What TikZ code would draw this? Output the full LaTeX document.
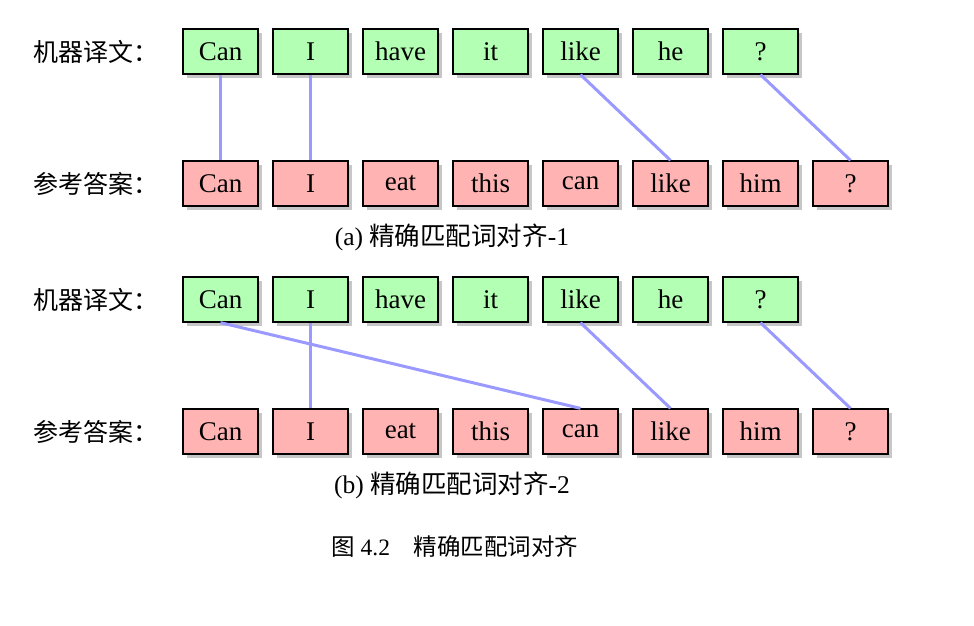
\documentclass[tikz,border=0pt]{standalone}
\usepackage{fontspec}
\setmainfont{Liberation Serif}
\newfontfamily\cjk{Noto Sans CJK SC}
\usetikzlibrary{positioning,shadows}
\definecolor{mtgreen}{RGB}{179,255,179}
\definecolor{refred}{RGB}{255,179,179}
\definecolor{linkblue}{RGB}{153,153,255}

\begin{document}
\begin{tikzpicture}[
    x=1pt, y=-1pt,
    word/.style={rectangle, draw, line width=1.3pt, minimum width=75pt, minimum height=45pt,
        inner sep=0pt, font=\fontsize{27}{32}\selectfont,
        drop shadow={shadow xshift=4pt, shadow yshift=-4pt, fill=black!22, opacity=1}},
    mtword/.style={word, fill=mtgreen},
    refword/.style={word, fill=refred},
    link/.style={draw=linkblue, line width=3pt},
    rowlabel/.style={anchor=west, font=\cjk\fontsize{25}{30}\selectfont},
    subcap/.style={font=\fontsize{25.5}{30}\selectfont}
]
    \useasboundingbox (0,0) rectangle (974,626);

    % (a)
    \node[rowlabel] (a-mtlabel) at (30,52) {机器译文：};
    \node[rowlabel] (a-reflabel) at (30,184) {参考答案：};
    \foreach \w [count=\i] in {Can,I,have,it,like,he,?}
        \node[mtword] (a-m\i) at ({130.5+90*\i},51.5) {\w};
    \foreach \w [count=\i] in {Can,I,eat,this,can,like,him,?}
        \node[refword] (a-r\i) at ({130.5+90*\i},183.5) {\w};
    \draw[link] (a-m1.south) -- (a-r1.north);
    \draw[link] (a-m2.south) -- (a-r2.north);
    \draw[link] (a-m5.south) -- (a-r6.north);
    \draw[link] (a-m7.south) -- (a-r8.north);
    \node[subcap] (a-cap) at (452,237) {(a) {\cjk 精确匹配词对齐}-1};

    % (b)
    \node[rowlabel] (b-mtlabel) at (30,300) {机器译文：};
    \node[rowlabel] (b-reflabel) at (30,432) {参考答案：};
    \foreach \w [count=\i] in {Can,I,have,it,like,he,?}
        \node[mtword] (b-m\i) at ({130.5+90*\i},299.5) {\w};
    \foreach \w [count=\i] in {Can,I,eat,this,can,like,him,?}
        \node[refword] (b-r\i) at ({130.5+90*\i},431.5) {\w};
    \draw[link] (b-m1.south) -- (b-r5.north);
    \draw[link] (b-m2.south) -- (b-r2.north);
    \draw[link] (b-m5.south) -- (b-r6.north);
    \draw[link] (b-m7.south) -- (b-r8.north);
    \node[subcap] (b-cap) at (452,485) {(b) {\cjk 精确匹配词对齐}-2};

    % figure caption
    \node[subcap, font=\fontsize{23.5}{28}\selectfont] (figcap) at (455,547) {{\cjk 图 }4.2{\cjk 　精确匹配词对齐}};
\end{tikzpicture}
\end{document}
